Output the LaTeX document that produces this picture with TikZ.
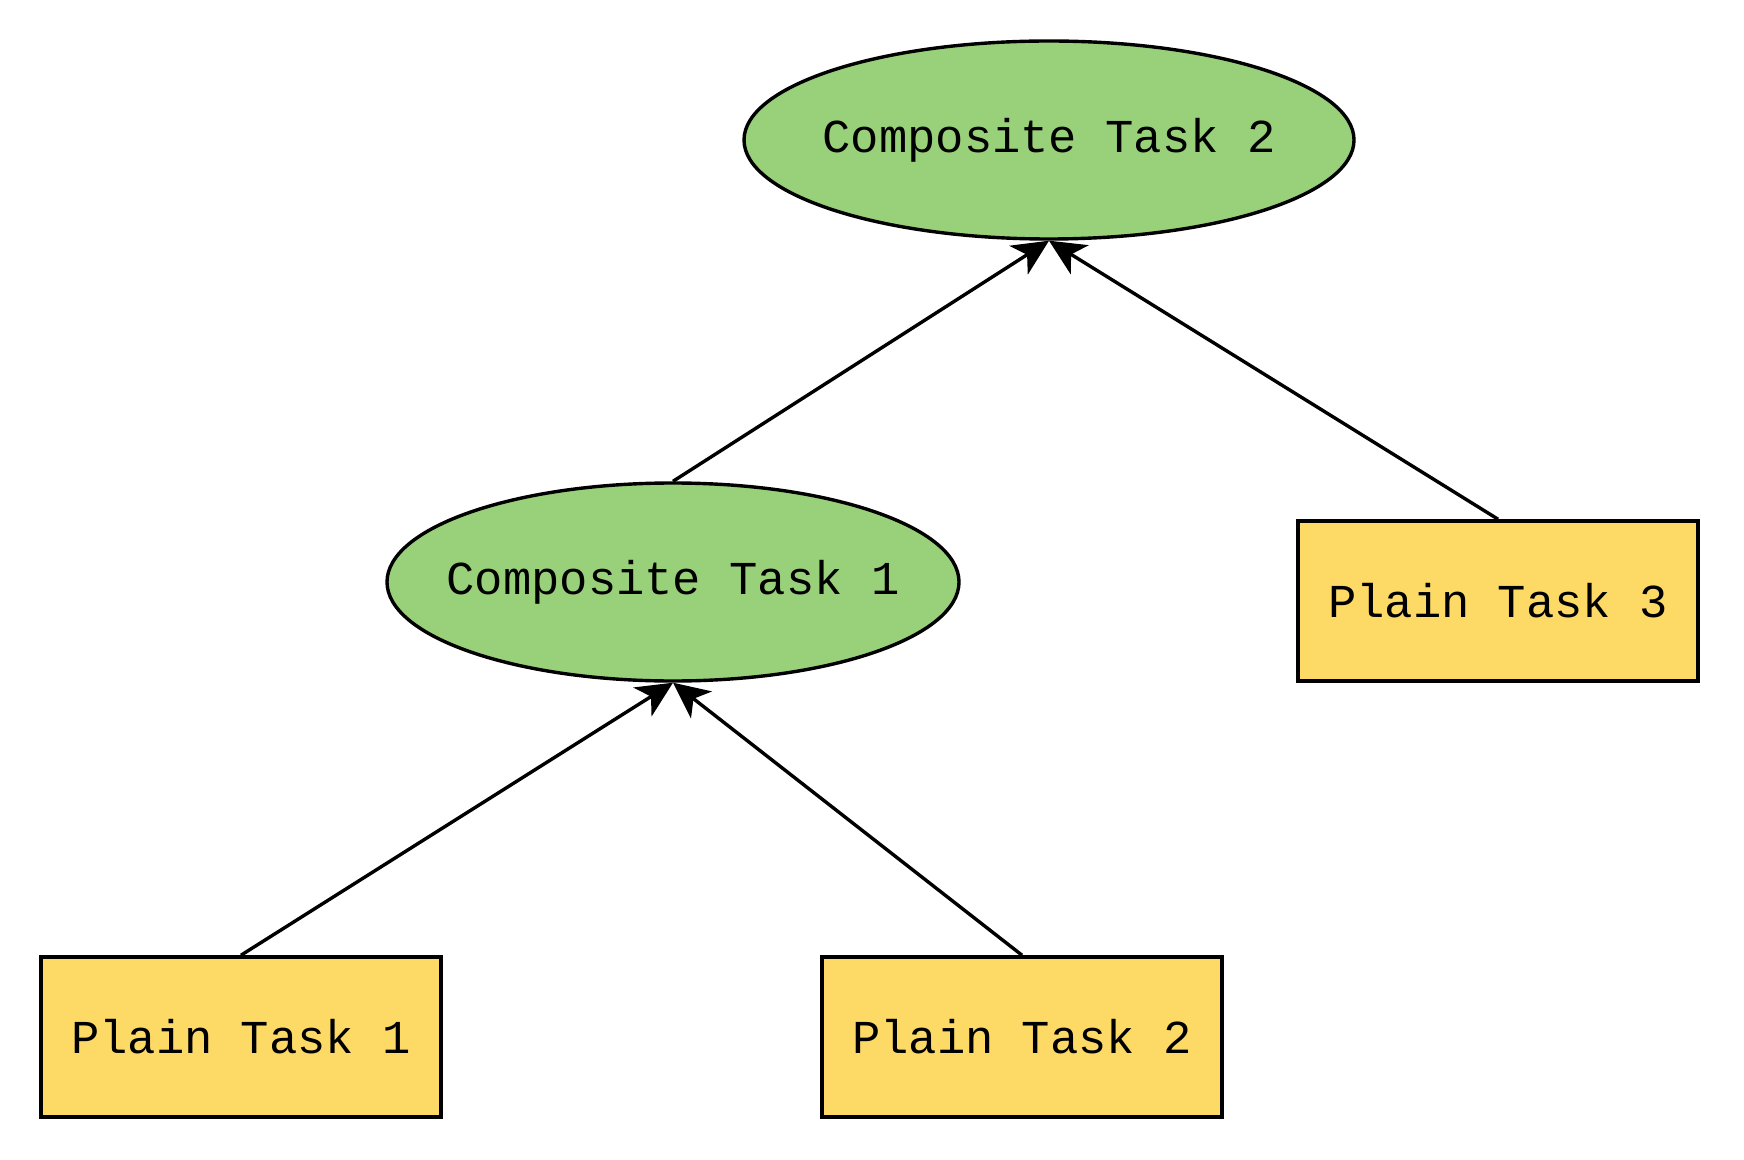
\documentclass[tikz,border=0pt]{standalone}
\usepackage{fontspec}
\setmonofont{Liberation Mono}
\usetikzlibrary{shapes.geometric, arrows.meta, positioning}
\definecolor{compgreen}{HTML}{99D17B}
\definecolor{plainyellow}{HTML}{FDD966}
\tikzstyle{composite} = [ellipse, minimum width=305pt, minimum height=99pt, inner xsep=-20pt, inner ysep=0pt, text centered, draw=black, line width=1.7pt, fill=compgreen, font=\ttfamily\fontsize{23.6}{28}\selectfont]
\tikzstyle{plain} = [rectangle, minimum width=200pt, minimum height=80pt, inner sep=0pt, text centered, draw=black, line width=1.8pt, fill=plainyellow, font=\ttfamily\fontsize{23.6}{28}\selectfont]
\tikzstyle{arrow} = [line width=1.7pt,->,>={Stealth[length=18pt, width=17pt, inset=5pt]}]
\begin{document}
\begin{tikzpicture}[x=0.5pt, y=-0.5pt]
\useasboundingbox (0,0) rectangle (1744,1160);

\node (comp2) [composite] at (1049,140) {Composite Task 2};
\node (comp1) [composite, minimum width=286pt] at (673,582) {Composite Task 1};

\node (plain3) [plain] at (1498,601) {Plain Task 3};
\node (plain1) [plain] at (241,1037) {Plain Task 1};
\node (plain2) [plain] at (1022,1037) {Plain Task 2};

\draw [arrow] (comp1.north) -- (comp2.south);
\draw [arrow] (plain3.north) -- (comp2.south);
\draw [arrow] (plain1.north) -- (comp1.south);
\draw [arrow] (plain2.north) -- (comp1.south);
\end{tikzpicture}
\end{document}
